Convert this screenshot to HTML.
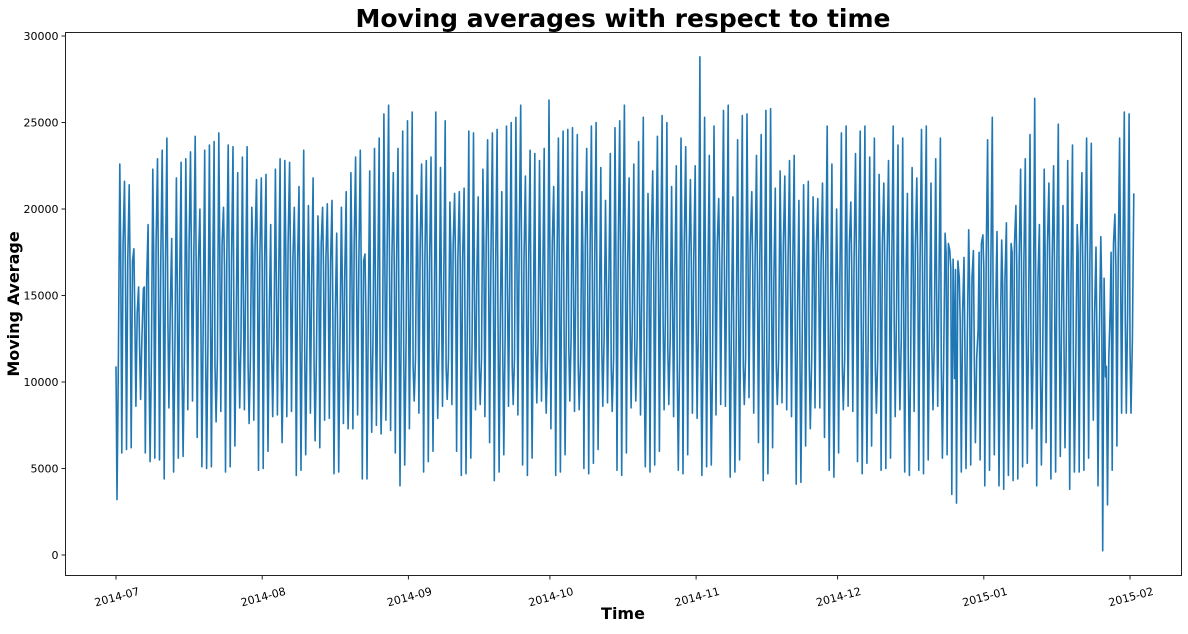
<!DOCTYPE html>
<html><head><meta charset="utf-8">
<style>
body{margin:0;background:#fff;font-family:"Liberation Sans","DejaVu Sans",sans-serif;}
svg text{font-family:"DejaVu Sans","Liberation Sans",sans-serif;}
</style></head>
<body>
<svg id="chart" width="1188" height="629" xmlns="http://www.w3.org/2000/svg">
<rect width="1188" height="629" fill="#fff"/>
<text x="623" y="27" text-anchor="middle" font-size="25" font-weight="bold" fill="#000">Moving averages with respect to time</text>
<text transform="translate(19,304) rotate(-90)" text-anchor="middle" font-size="16" font-weight="bold">Moving Average</text>
<text x="623" y="619" text-anchor="middle" font-size="16" font-weight="bold">Time</text>
<g id="yticks"></g>
<g id="xticks"></g>
<polyline id="line" fill="none" stroke="#1f77b4" stroke-width="1.6" stroke-linejoin="round"/>
<rect x="65.5" y="32.5" width="1116" height="543" fill="none" stroke="#222" stroke-width="1"/>
</svg>
<script>
const yTickValues=[0,5000,10000,15000,20000,25000,30000];
const xTickLabels=["2014-07","2014-08","2014-09","2014-10","2014-11","2014-12","2015-01","2015-02"];
const xTickDays=[0,31,62,92,123,153,184,215];
// daily peaks (Jul 1 2014 .. Jan 31 2015)
const peaks=[22600,21600,21400,17700,15500,15400,19100,
22300,22900,23400,24100,18300,21800,22700,
22900,23300,24200,20000,23400,23700,23900,
24400,20100,23700,23600,22100,23000,23600,
20100,21700,21800,22000,19100,22300,22900,
22800,22700,20100,21300,23400,20200,21800,
19600,20100,20300,20500,18600,20100,21000,
22100,23000,23400,17400,22200,23500,24100,
25500,26000,22100,23500,24500,25100,25600,
20800,22600,22800,23000,25600,22400,25100,
20400,20900,21000,21200,24500,24400,20700,
22300,24000,24400,24600,21000,24800,25000,
25300,26000,21900,23400,23200,22800,23500,
26300,21300,24100,24500,24600,24700,24300,
21000,23500,24800,25000,22400,20500,23200,
24700,25100,26000,21800,22600,23900,25300,
20900,22200,24200,25400,25000,21300,22500,
24100,23600,21700,
22500,28800,25300,23100,24800,20600,25700,
26000,20700,24000,25400,25500,21000,23100,
24300,25700,25800,21200,22200,21900,22800,
23100,20500,21400,21600,20700,20600,21500,
24800,22600,20000,24400,24800,20400,23200,
24500,24800,23000,24100,22000,21500,22800,
24800,23700,24100,20900,22400,
21800,24600,24800,21500,22900,24100,
18600,17600,
10200,16000,17200,18800,17600,13000,18500,
24000,25300,18700,18200,19200,18000,20200,
22300,22900,24300,26400,19100,22300,21500,
22500,24900,20200,22800,23700,19100,22100,
24100,23800,17800,18400,10300,14200,19700,
24100,25600,25500,20900];
const lows=[3200,5900,6100,6200,8600,9000,5900,
5400,5600,5500,4400,8500,4800,5600,
5700,8400,8900,6800,5100,5000,5100,
7700,8300,4800,5100,6300,8500,8400,
7600,7800,4900,5000,6000,8000,8100,
6500,8000,8300,4600,4900,5800,8200,
6600,6200,7800,7900,4700,4800,7600,
7300,7300,8100,4400,4400,7100,7500,
7000,7800,7200,5900,4000,5200,7300,
8900,8200,4800,5400,6000,7900,8600,
9000,8700,6000,4600,4700,5600,8400,
8700,8000,6500,4300,4800,5800,8600,
8700,8100,5200,4600,5600,8800,8900,
8200,7300,4600,4800,5800,8900,8300,
8400,5000,4700,5300,6100,8600,8800,
8300,4900,4600,5900,8500,8900,8100,
5100,4800,5200,6000,8400,8700,8000,
4900,4700,5800,
8200,7900,4600,5100,5200,8100,8700,
8600,4500,4800,5500,8700,9100,8200,
6500,4300,4700,6200,8700,8800,8400,
8000,4100,4200,6300,7300,8500,8500,
6800,4900,4500,5900,8400,8600,8300,
5400,4700,5300,6300,8200,4900,5000,
5600,8000,8400,4800,4600,
8300,4900,4700,5500,8400,8600,
5600,5800,
3500,3000,4800,5000,5200,6500,5500,
4000,4900,5800,4000,3800,4600,4300,
4400,5100,5300,7300,4000,5200,6500,
4400,4800,5700,6200,3800,4800,4800,
4900,5600,7800,4000,250,2900,4900,
6300,8200,8200,8200];
const mids=[10900,17500,16600,16500,13500,12000,15500];

const X0=65.5,X1=1181.5,Y0=32.5,Y1=575.5;
function xScale(d){return 116+(1130-116)*d/215;}
function yScale(v){return 555-(555-36)*v/30000;}

const NS='http://www.w3.org/2000/svg';
const yg=document.getElementById('yticks');
yTickValues.forEach(v=>{
  const y=yScale(v);
  const l=document.createElementNS(NS,'line');
  l.setAttribute('x1',X0-4);l.setAttribute('x2',X0);l.setAttribute('y1',y);l.setAttribute('y2',y);
  l.setAttribute('stroke','#222');
  
  
  yg.appendChild(l);
  const t=document.createElementNS(NS,'text');
  t.setAttribute('x',X0-7);t.setAttribute('y',y+4);t.setAttribute('text-anchor','end');t.setAttribute('font-size','11');
  t.textContent=v;
  
  
  yg.appendChild(t);
});
const xg=document.getElementById('xticks');
xTickLabels.forEach((lab,i)=>{
  const x=xScale(xTickDays[i]);
  const l=document.createElementNS(NS,'line');
  l.setAttribute('x1',x);l.setAttribute('x2',x);l.setAttribute('y1',Y1);l.setAttribute('y2',Y1+4);
  l.setAttribute('stroke','#222');
  
  
  xg.appendChild(l);
  const t=document.createElementNS(NS,'text');
  t.setAttribute('transform','translate('+(x+2)+','+(Y1+25)+') rotate(-15)');
  t.setAttribute('text-anchor','middle');t.setAttribute('font-size','11');
  t.textContent=lab;
  
  
  xg.appendChild(t);
});
const pts=[];
for(let d=0;d<peaks.length;d++){
  const m=mids[d%mids.length];
  pts.push([xScale(d),yScale(m)]);
  pts.push([xScale(d+0.22),yScale(lows[d])]);
  pts.push([xScale(d+0.5),yScale(m+500)]);
  pts.push([xScale(d+0.8),yScale(peaks[d])]);
}
document.getElementById('line').setAttribute('points',pts.map(p=>p[0].toFixed(1)+','+p[1].toFixed(1)).join(' '));
</script>
</body></html>
